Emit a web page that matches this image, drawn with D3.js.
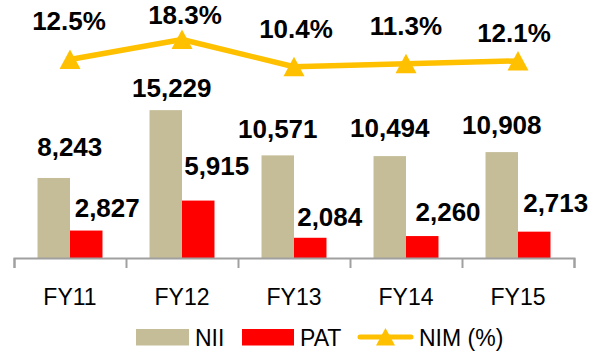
<!DOCTYPE html>
<html>
<head>
<meta charset="utf-8">
<script src="https://cdn.jsdelivr.net/npm/d3@7"></script>
<style>
  html, body { margin: 0; padding: 0; background: #fff; }
  svg { display: block; }
  text { font-family: "Liberation Sans", Arial, sans-serif; fill: #000; }
</style>
</head>
<body>
<svg id="chart" width="589" height="351"></svg>
<script>
// Financial years on the category axis
const categories = ["FY11", "FY12", "FY13", "FY14", "FY15"];
// Net interest income and profit after tax
const nii = [8243, 15229, 10571, 10494, 10908];
const pat = [2827, 5915, 2084, 2260, 2713];
// Net interest margin, percent
const nim = [12.5, 18.3, 10.4, 11.3, 12.1];
const seriesNames = ["NII", "PAT", "NIM (%)"];

// Hand-placed data label nudges [dx, dy] relative to each mark's top centre
const niiLabelNudge = [[16, -22], [6, -13], [0, -17.7], [0, -19], [0, -17.8]];
const patLabelNudge = [[21, -14], [18.5, -25.6], [19.5, -11.3], [25.8, -15.4], [21.5, -20]];
const nimLabelNudge = [[-1, -29.5], [3, -15.8], [2, -29], [0, -29], [-4, -19]];

const colors = { NII: "#C4BD97", PAT: "#FF0000", NIM: "#FFC000", axis: "#A0A0A0" };

const svg = d3.select("#chart");
const baseY = 258, topY = 25;

const x = d3.scaleBand().domain(categories).range([14, 574]).padding(0);
const groupW = x.bandwidth() * 0.58;
const xs = d3.scaleBand().domain(["NII", "PAT"])
  .range([(x.bandwidth() - groupW) / 2, (x.bandwidth() + groupW) / 2]).padding(0);

const y = d3.scaleLinear().domain([0, 24000]).range([baseY, topY]);
const yR = d3.scaleLinear().domain([-45, 22.5]).range([baseY, topY]);

const fmt = d3.format(",");

// Bars
const groups = svg.append("g").selectAll("g")
  .data(categories)
  .join("g")
  .attr("transform", d => `translate(${x(d)},0)`);

groups.append("rect")
  .attr("x", xs("NII")).attr("width", xs.bandwidth())
  .attr("y", (d, i) => y(nii[i])).attr("height", (d, i) => y(0) - y(nii[i]))
  .attr("fill", colors.NII);

groups.append("rect")
  .attr("x", xs("PAT")).attr("width", xs.bandwidth())
  .attr("y", (d, i) => y(pat[i])).attr("height", (d, i) => y(0) - y(pat[i]))
  .attr("fill", colors.PAT);

// Category axis: labels at band centres
const axisG = svg.append("g").attr("transform", `translate(0,${baseY})`)
  .call(d3.axisBottom(x).tickSize(0).tickPadding(31));
axisG.select(".domain").remove();
axisG.selectAll("text").style("font-size", "23px").style("font-family", "'Liberation Sans', Arial, sans-serif").attr("fill", "#000");

// Axis line with ticks at category boundaries
const xb = d3.scaleLinear().domain([0, categories.length]).range(x.range());
const boundG = svg.append("g").attr("transform", `translate(0,${baseY})`)
  .call(d3.axisBottom(xb).ticks(categories.length).tickSize(10).tickSizeOuter(10).tickFormat(""));
boundG.select(".domain").attr("stroke", colors.axis).attr("stroke-width", 2);
boundG.selectAll(".tick line").attr("stroke", colors.axis).attr("stroke-width", 2);

// NIM line with triangle markers
const cx = (d) => x(d) + x.bandwidth() / 2;
const line = d3.line().x((d, i) => cx(categories[i])).y(d => yR(d));
svg.append("path").datum(nim)
  .attr("d", line)
  .attr("fill", "none").attr("stroke", colors.NIM)
  .attr("stroke-width", 5.5).attr("stroke-linejoin", "round").attr("stroke-linecap", "round");

const tri = (w, h) => `M0,${-h / 2 - 0.5}L${w / 2},${h / 2}L${-w / 2},${h / 2}Z`;
svg.append("g").selectAll("path")
  .data(nim)
  .join("path")
  .attr("d", tri(21, 19))
  .attr("transform", (d, i) => `translate(${cx(categories[i])},${yR(d)})`)
  .attr("fill", colors.NIM);

// Data labels
const labelG = svg.append("g").style("font-size", "26px").style("font-weight", "bold").attr("text-anchor", "middle");
labelG.selectAll("text.nii").data(nii).join("text").attr("class", "nii")
  .attr("x", (d, i) => x(categories[i]) + xs("NII") + xs.bandwidth() / 2 + niiLabelNudge[i][0])
  .attr("y", (d, i) => y(d) + niiLabelNudge[i][1])
  .text(d => fmt(d));
labelG.selectAll("text.pat").data(pat).join("text").attr("class", "pat")
  .attr("x", (d, i) => x(categories[i]) + xs("PAT") + xs.bandwidth() / 2 + patLabelNudge[i][0])
  .attr("y", (d, i) => y(d) + patLabelNudge[i][1])
  .text(d => fmt(d));
labelG.selectAll("text.nim").data(nim).join("text").attr("class", "nim")
  .attr("x", (d, i) => cx(categories[i]) + nimLabelNudge[i][0])
  .attr("y", (d, i) => yR(d) + nimLabelNudge[i][1])
  .text(d => d.toFixed(1) + "%");

// Legend
const legend = svg.append("g").style("font-size", "23px");
legend.append("rect").attr("x", 136).attr("y", 329).attr("width", 53).attr("height", 16.5).attr("fill", colors.NII);
legend.append("text").attr("x", 195).attr("y", 346).text(seriesNames[0]);
legend.append("rect").attr("x", 242).attr("y", 329).attr("width", 52).attr("height", 16.5).attr("fill", colors.PAT);
legend.append("text").attr("x", 300).attr("y", 346).text(seriesNames[1]);
legend.append("line").attr("x1", 360).attr("x2", 411).attr("y1", 337).attr("y2", 337)
  .attr("stroke", colors.NIM).attr("stroke-width", 5).attr("stroke-linecap", "round");
legend.append("path").attr("d", tri(19, 17)).attr("transform", "translate(385.5,337)").attr("fill", colors.NIM);
legend.append("text").attr("x", 419).attr("y", 346).text(seriesNames[2]);
</script>
</body>
</html>
